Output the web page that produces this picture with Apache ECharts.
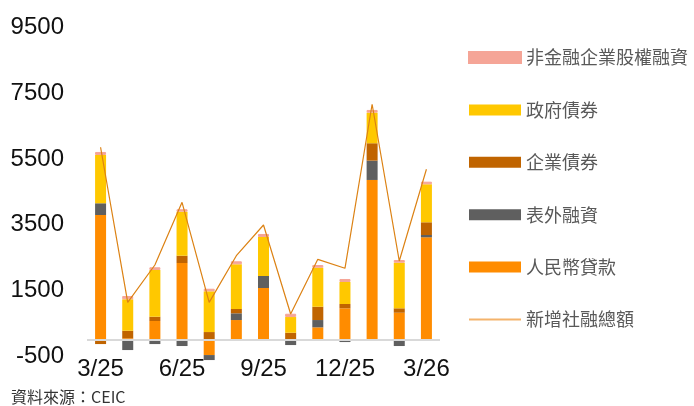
<!DOCTYPE html>
<html>
<head>
<meta charset="utf-8">
<script src="https://cdn.jsdelivr.net/npm/echarts@6/dist/echarts.min.js"></script>
<style>
html,body{margin:0;padding:0;background:#fff;}
#chart{width:694px;height:406px;}
</style>
</head>
<body>
<div id="chart"></div>
<script>
// Data (billion yuan)
var categories = ['3/25','4/25','5/25','6/25','7/25','8/25','9/25','10/25','11/25','12/25','1/26','2/26','3/26'];
var loans      = [3800,   52,  578, 2341, -456,  608, 1581,    0,  386,  964, 4864,  830, 3122];
var offBalance = [ 356, -304, -122, -182, -152,  204,  365, -152,  222,  -61,  587, -182,   70];
var corpBonds  = [-122,  231,  131,  222,  243,  131,    0,  222,  404,  131,  529,  134,  386];
var govBonds   = [1468,  955, 1420, 1338, 1237, 1359, 1186,  477, 1186,  669,  930, 1386, 1155];
var equity     = [  91,  100,   82,   73,   79,   91,   91,  100,   82,   91,   82,   82,   79];
var totalTSF   = [5858, 1146, 2280, 4186, 1146, 2563, 3496,  790, 2453, 2180, 7165, 2402, 5189];
var yTicks     = {min: -500, max: 9500, interval: 2000};
var sourceText = '資料來源：CEIC';

var names = {
  equity: '非金融企業股權融資',
  gov: '政府債券',
  corp: '企業債券',
  off: '表外融資',
  loans: '人民幣貸款',
  total: '新增社融總額'
};

function barSeries(name, data, color, extra) {
  var s = {
    name: name, type: 'bar', stack: 'tsf', data: data,
    barWidth: 11, clip: false,
    itemStyle: {color: color},
    emphasis: {disabled: true}
  };
  if (extra) { for (var k in extra) s[k] = extra[k]; }
  return s;
}

var chart = echarts.init(document.getElementById('chart'), null, {renderer: 'canvas'});
chart.setOption({
  animation: false,
  backgroundColor: '#ffffff',
  grid: {left: 87, right: 254, top: 27.4, bottom: 49.5, containLabel: false},
  legend: {
    orient: 'vertical',
    left: 468, top: 48.5, padding: 0,
    itemWidth: 52, itemHeight: 11, itemGap: 34.4,
    textStyle: {fontSize: 18, lineHeight: 18, color: '#595959', fontFamily: 'Noto Sans CJK TC'},
    data: [
      {name: names.equity, icon: 'rect'},
      {name: names.gov, icon: 'rect'},
      {name: names.corp, icon: 'rect'},
      {name: names.off, icon: 'rect'},
      {name: names.loans, icon: 'rect'},
      {name: names.total, icon: 'path://M0,0L52,0L52,2L0,2Z', itemStyle: {color: '#f4b36c'}}
    ],
    selectedMode: false
  },
  xAxis: {
    type: 'category',
    data: categories,
    axisLine: {show: false},
    axisTick: {show: false},
    axisLabel: {interval: 2, margin: 1, fontSize: 24, color: '#111', fontFamily: 'Liberation Sans'}
  },
  yAxis: {
    type: 'value',
    min: yTicks.min, max: yTicks.max, interval: yTicks.interval,
    splitLine: {show: false},
    axisLine: {show: false},
    axisTick: {show: false},
    axisLabel: {margin: 23, fontSize: 24, color: '#111', fontFamily: 'Liberation Sans',
      formatter: function (v) { return String(v); }}
  },
  graphic: [{
    type: 'text', left: 11, top: 389,
    style: {text: sourceText, fontSize: 16, fill: '#333', fontFamily: 'Noto Sans CJK TC'}
  }],
  series: [
    barSeries(names.loans, loans, '#ff8c00', {
      markLine: {
        silent: true, symbol: 'none', label: {show: false},
        lineStyle: {color: '#d9d9d9', width: 2, type: 'solid'},
        data: [{yAxis: 0}]
      }
    }),
    barSeries(names.off, offBalance, '#5f5f5f'),
    barSeries(names.corp, corpBonds, '#c06400'),
    barSeries(names.gov, govBonds, '#ffc800'),
    barSeries(names.equity, equity, '#f5a597', {itemStyle: {color: '#f5a597', borderColor: '#f5a597', borderWidth: 1}}),
    {
      name: names.total, type: 'line', data: totalTSF,
      symbol: 'none', z: 5,
      lineStyle: {color: '#dc8214', width: 1.2},
      emphasis: {disabled: true}
    }
  ]
});
</script>
</body>
</html>
